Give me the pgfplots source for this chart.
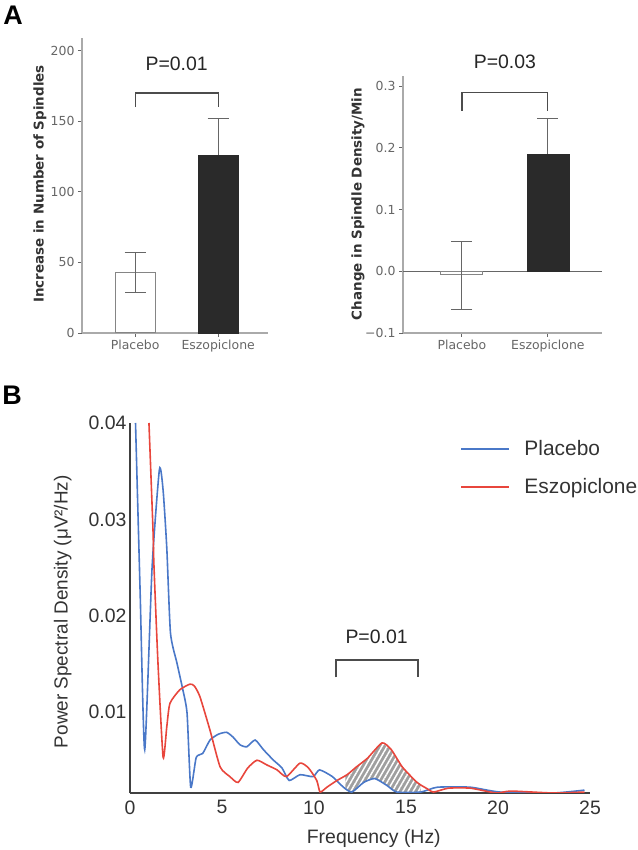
\documentclass[border=0pt]{standalone}
\usepackage{fontspec}
\setmainfont{Liberation Sans}
\newfontfamily\dejavu{DejaVu Sans}
\usepackage{pgfplots}
\pgfplotsset{compat=1.18}
\usetikzlibrary{patterns.meta}
\definecolor{psdblue}{HTML}{4A78C8}
\definecolor{psdred}{HTML}{E8463C}
\definecolor{axgray}{HTML}{AAAAAA}
\definecolor{tickgray}{HTML}{666666}
\definecolor{bardark}{HTML}{2A2A2A}

\newcommand{\fs}[1]{\fontsize{#1}{#1}\selectfont}

\pgfplotsset{
  barpanel/.style={
    scale only axis,
    axis x line=bottom, axis y line=left,
    axis line style={-, axgray, line width=1.1bp},
    tick style={tickgray, line width=0.9bp},
    major tick length=4bp, tick align=outside,
    xtick={0,1}, xticklabels={Placebo,Eszopiclone},
    ticklabel style={font=\dejavu\fs{12.5}, text=tickgray},
    ylabel style={font=\dejavu\bfseries\fs{13.5}, text=black!80},
    clip=false,
    scaled y ticks=false,
  },
  ebar/.style={draw=none, mark=none, forget plot,
    error bars/.cd, y dir=both, y explicit,
    error bar style={tickgray, line width=1bp},
    error mark=|, error mark options={tickgray, line width=1bp, mark size=10.5bp}},
}

\begin{document}
\begin{tikzpicture}
\path[use as bounding box] (0bp,0bp) rectangle (638bp,850bp);

\node[font=\bfseries\fs{27}] at (13bp,835bp) {A};
\node[font=\bfseries\fs{27}] at (12bp,455bp) {B};

% A left: number of spindles
\begin{axis}[barpanel,
  at={(82bp,517bp)}, width=186bp, height=295bp,
  xmin=-0.64, xmax=1.6, ymin=0, ymax=209,
  ytick={0,50,100,150,200},
  yticklabels={0,50,100,150,200},
  ylabel={Increase in Number of Spindles},
  ylabel style={at={(axis description cs:-0.226,0.505)}, anchor=center},
]
\addplot[ebar] coordinates {(1,126) +- (0,26)};
\addplot[ybar, bar width=40bp, bar shift=0pt, fill=white, draw=tickgray!80, line width=1bp] coordinates {(0,43)};
\addplot[ybar, bar width=40bp, bar shift=0pt, fill=bardark, draw=bardark] coordinates {(1,126)};
\addplot[ebar] coordinates {(0,43) +- (0,14)};
\draw[black!70, line width=1.2bp] (axis cs:0,160) -- (axis cs:0,170) -- (axis cs:1,170) -- (axis cs:1,160);
\node[font=\fs{19.5}, text=black!85] at (axis cs:0.5,191) {P=0.01};
\end{axis}

% A right: spindle density
\begin{axis}[barpanel,
  at={(403bp,517bp)}, width=199bp, height=257bp,
  xmin=-0.686, xmax=1.63, ymin=-0.1, ymax=0.3165,
  ytick={-0.1,0,0.1,0.2,0.3},
  yticklabels={−0.1,0.0,0.1,0.2,0.3},
  ylabel={Change in Spindle Density/Min},
  ylabel style={at={(axis description cs:-0.226,0.502)}, anchor=center},
]
\draw[tickgray, line width=1bp] (axis cs:-0.686,0) -- (axis cs:1.63,0);
\addplot[ebar] coordinates {(1,0.19) +- (0,0.058)};
\addplot[ybar, bar width=42bp, bar shift=0pt, fill=white, draw=tickgray!80, line width=1bp] coordinates {(0,-0.005)};
\addplot[ybar, bar width=42bp, bar shift=0pt, fill=bardark, draw=bardark] coordinates {(1,0.19)};
\addplot[ebar] coordinates {(0,-0.0065) +- (0,0.0555)};
\draw[black!70, line width=1.2bp] (axis cs:0,0.26) -- (axis cs:0,0.29) -- (axis cs:1,0.29) -- (axis cs:1,0.26);
\node[font=\fs{19.5}, text=black!85] at (axis cs:0.5,0.339) {P=0.03};
\end{axis}

% B: power spectral density
\begin{axis}[
  scale only axis,
  at={(130bp,57bp)}, width=460bp, height=370bp,
  xmin=0, xmax=25, ymin=0.0016, ymax=0.04,
  axis x line=bottom, axis y line=left,
  axis line style={-, black!75, line width=2bp},
  major tick length=0pt,
  xtick={0,5,10,15,20,25}, xticklabels={0,5,10,15,20,25},
  ytick={0.01,0.02,0.03,0.04}, yticklabels={0.01,0.02,0.03,0.04},
  scaled y ticks=false,
  ticklabel style={font=\fs{19.5}, text=black!80},
  xticklabel style={yshift=-4bp},
  xlabel={Frequency (Hz)},
  xlabel style={font=\fs{19.5}, text=black!80, at={(axis description cs:0.53,-0.122)}, anchor=center},
  ylabel={Power Spectral Density (μV²/Hz)},
  ylabel style={font=\fs{19}, text=black!80, at={(axis description cs:-0.146,0.49)}, anchor=center},
  legend style={at={(axis description cs:0.718,0.958)}, anchor=north west, draw=none, fill=none,
    font=\fs{21}, text=black!80, row sep=17bp, inner sep=0pt,
    /tikz/every odd column/.append style={column sep=12bp}},
  legend cell align=left,
  legend image code/.code={\draw[#1, line width=2bp] (0bp,0bp) -- (48bp,0bp);},
]
% shaded difference between the curves, 11.7-15.8 Hz
\addplot[fill=gray!75, draw=none, forget plot] coordinates {
(11.7,0.0034) (11.8,0.0035) (12.3,0.0043) (12.9,0.0052) (13.7,0.0068) (14.2,0.0061) (14.8,0.0043)
(15.6,0.0027) (15.8,0.0025) (15.8,0.0017) (14.5,0.0017) (13.95,0.0024) (13.3,0.0031) (12.7,0.0027)
(12.06,0.0017) (11.7,0.0020)
};
\addplot[draw=none, pattern={Lines[angle=60, distance=4.5bp, line width=1.5bp]}, pattern color=white, forget plot] coordinates {
(11.7,0.0034) (11.8,0.0035) (12.3,0.0043) (12.9,0.0052) (13.7,0.0068) (14.2,0.0061) (14.8,0.0043)
(15.6,0.0027) (15.8,0.0025) (15.8,0.0017) (14.5,0.0017) (13.95,0.0024) (13.3,0.0031) (12.7,0.0027)
(12.06,0.0017) (11.7,0.0020)
};
\addplot[psdblue, line width=1.6bp, smooth, tension=0.35] coordinates {
(0.3,0.0400) (0.55,0.0225) (0.8,0.0061) (1.2,0.0250) (1.6,0.0352) (1.8,0.0330) (2.0,0.0270)
(2.2,0.0182) (2.55,0.0151) (2.85,0.0125) (3.1,0.0099) (3.3,0.0022) (3.6,0.0053) (3.95,0.0057)
(4.35,0.0071) (4.8,0.0077) (5.25,0.0079) (5.6,0.0074) (5.98,0.0066) (6.35,0.0064) (6.8,0.0071)
(7.25,0.0061) (7.8,0.0050) (8.26,0.0042) (8.65,0.0029) (9.24,0.0035) (9.95,0.0033) (10.3,0.0040)
(11.0,0.0033) (11.6,0.0022) (12.06,0.0017) (12.7,0.0027) (13.3,0.0031) (13.95,0.0024) (14.5,0.0017)
(15.8,0.0017) (16.7,0.0022) (18.5,0.0022) (20.1,0.0017) (23.0,0.0016) (24.7,0.0019)
};
\addlegendentry{Placebo}
\addplot[psdred, line width=1.6bp, smooth, tension=0.35] coordinates {
(1.03,0.0400) (1.25,0.0289) (1.3,0.0253) (1.52,0.0151) (1.8,0.0053) (2.0,0.0085) (2.17,0.0109)
(2.7,0.0123) (3.26,0.0129) (3.5,0.0127) (3.8,0.0116) (4.35,0.0081) (4.9,0.0043) (5.43,0.0033)
(5.87,0.0027) (6.4,0.0042) (6.9,0.0050) (7.45,0.0045) (7.99,0.0040) (8.5,0.0033) (9.24,0.0047)
(9.7,0.0042) (10.15,0.0029) (10.33,0.0017) (10.7,0.0022) (11.25,0.0029) (11.8,0.0035) (12.3,0.0043)
(12.9,0.0052) (13.7,0.0068) (14.2,0.0061) (14.8,0.0043) (15.6,0.0027) (16.1,0.0021) (16.5,0.0017)
(17.3,0.0021) (18.5,0.0021) (19.9,0.0016) (20.7,0.0018) (23.0,0.0016) (24.7,0.0017)
};
\addlegendentry{Eszopiclone}
\draw[black!70, line width=1.3bp] (axis cs:11.2,0.0136) -- (axis cs:11.2,0.0154) -- (axis cs:15.65,0.0154) -- (axis cs:15.65,0.0136);
\node[font=\fs{19.5}, text=black!85] at (axis cs:13.4,0.0178) {P=0.01};
\end{axis}
\end{tikzpicture}
\end{document}
